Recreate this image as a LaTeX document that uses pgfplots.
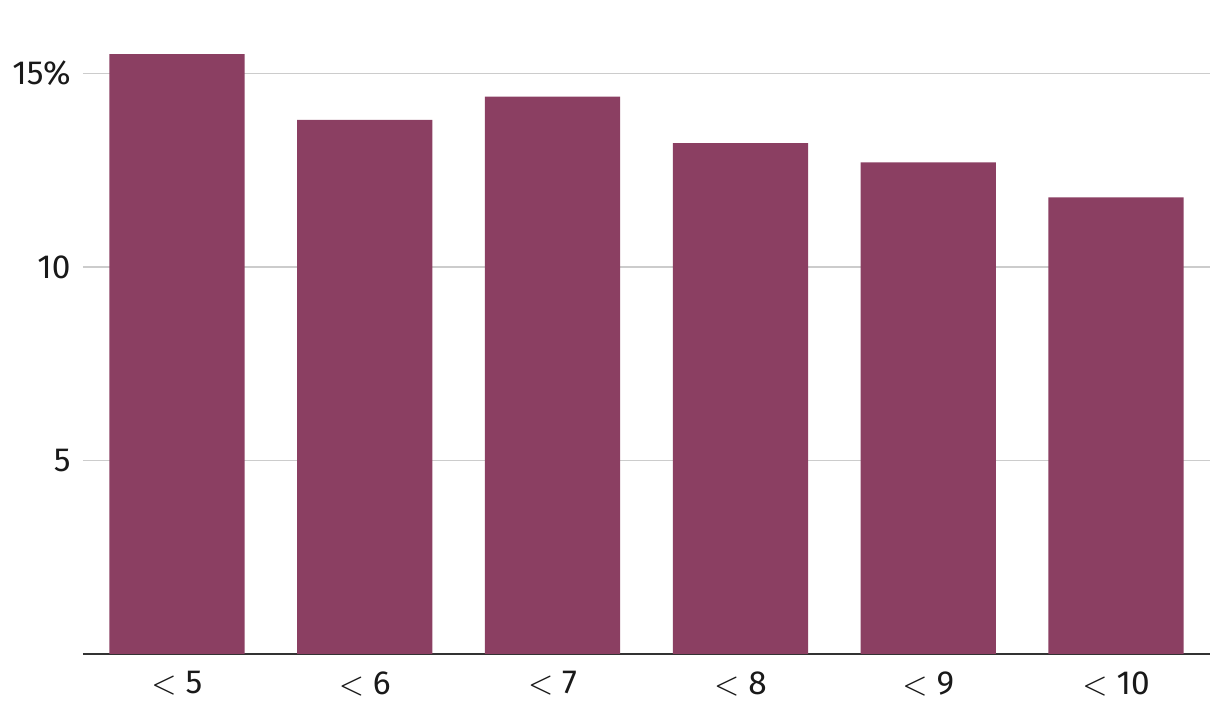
\documentclass[border=0pt]{standalone}
\usepackage{fontspec}
\setmainfont{Fira Sans}
\usepackage{pgfplots}
\pgfplotsset{compat=1.18}
\definecolor{barc}{HTML}{8B3F62}
\definecolor{gridc}{HTML}{CCCCCC}
\begin{document}
\begin{tikzpicture}
\begin{axis}[
  scale only axis,
  width=11.27cm, height=6.34cm,
  xmin=-0.5, xmax=5.5,
  ymin=0, ymax=16.38,
  axis x line*=bottom,
  axis y line*=left,
  y axis line style={draw=none},
  x axis line style={draw=black!80, line width=0.6pt},
  xtick={0,1,2,3,4,5},
  xticklabels={$<$ 5,$<$ 6,$<$ 7,$<$ 8,$<$ 9,$<$ 10},
  xtick style={draw=none},
  ytick={5,10,15},
  yticklabels={5,10,15\%},
  ymajorgrids,
  grid style={gridc, line width=0.5pt},
  tick label style={font=\fontsize{9.5pt}{11pt}\selectfont, text=black!90},
  /pgf/number format/assume math mode=true,
  xticklabel style={yshift=-0.05cm},
  ytick style={draw=none},
]
\addplot[ybar, bar width=0.72, fill=barc, draw=none] coordinates {
(0,15.5) (1,13.8) (2,14.4) (3,13.2) (4,12.7) (5,11.8)};
\end{axis}
\path[use as bounding box] ([xshift=-0.83cm,yshift=-0.60cm]current axis.south west) rectangle ([xshift=0.10cm,yshift=0.20cm]current axis.north east);
\end{tikzpicture}
\end{document}
